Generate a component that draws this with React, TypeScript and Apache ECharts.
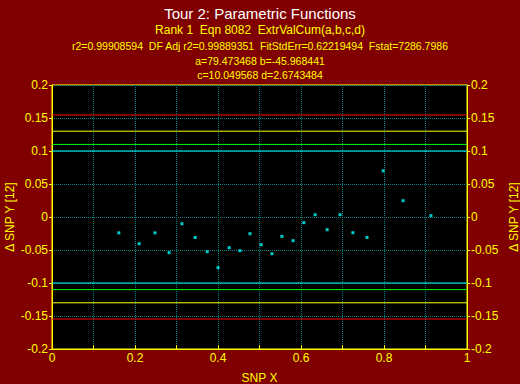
import React, { useEffect, useRef } from "react";
import * as echarts from "echarts";

const titleLines = [
  "Tour 2: Parametric Functions",
  "Rank 1  Eqn 8082  ExtrValCum(a,b,c,d)",
  "r2=0.99908594  DF Adj r2=0.99889351  FitStdErr=0.62219494  Fstat=7286.7986",
  "a=79.473468 b=-45.968441",
  "c=10.049568 d=2.6743484",
];

const xValues = [
  0.161, 0.21, 0.248, 0.282, 0.313, 0.345, 0.374, 0.4, 0.427, 0.453, 0.477, 0.504,
  0.53, 0.554, 0.581, 0.607, 0.634, 0.663, 0.694, 0.725, 0.759, 0.798, 0.846, 0.913,
];
const yValues = [
  -0.024, -0.0405, -0.024, -0.054, -0.0102, -0.031, -0.0526, -0.0768, -0.0465, -0.051, -0.0253, -0.042,
  -0.0556, -0.0294, -0.0359, -0.0086, 0.0035, -0.0192, 0.0035, -0.0238, -0.031, 0.07, 0.0247, 0.002,
];

const limitValues = [0.1, 0.11, 0.13, 0.1545];
const limitColors = ["#00ffff", "#00ff00", "#ffff00", "#ff0000"];

const FONT = "'Liberation Sans', Arial, sans-serif";
const YELLOW = "#ffff00";
const GRIDCOLOR = "#008080";

export default function App() {
  const ref = useRef<HTMLDivElement>(null);
  useEffect(() => {
    if (!ref.current) return;
    const chart = echarts.init(ref.current, undefined, { renderer: "svg" });
    const points = xValues.map((x, i) => [x, yValues[i]]);
    const limitSeries: any[] = [];
    limitValues.forEach((v, i) => {
      [v, -v].forEach((val) => {
        limitSeries.push({
          type: "line",
          data: [
            [0, val],
            [1, val],
          ],
          symbol: "none",
          silent: true,
          lineStyle: { color: limitColors[i], width: 1 },
          z: 1,
        });
      });
    });
    const titleY = [13, 30, 45.5, 61, 75];
    const titleSize = [15, 12, 10.5, 10.5, 10.5];
    const yAxisCommon = {
      type: "value",
      min: -0.2,
      max: 0.2,
      interval: 0.05,
      name: "\u0394 SNP Y [12]",
      nameLocation: "middle",
      nameRotate: 90,
      nameMoveOverlap: false,
      nameTextStyle: { color: YELLOW, fontSize: 12, fontFamily: FONT },
      axisLine: { show: true, onZero: false, lineStyle: { color: YELLOW, width: 1 } },
      axisTick: { show: true, inside: false, length: 3, lineStyle: { color: YELLOW } },
      axisLabel: { color: YELLOW, fontSize: 12, fontFamily: FONT, margin: 4 },
    };
    chart.setOption({
      animation: false,
      backgroundColor: "#800000",
      graphic: titleLines.map((t, i) => ({
        type: "text",
        x: 260,
        y: titleY[i],
        style: {
          text: t,
          fill: i === 0 ? "#ffffff" : YELLOW,
          font: `${titleSize[i]}px ${FONT}`,
          textAlign: "center",
          textVerticalAlign: "middle",
        },
      })),
      grid: {
        left: 52,
        right: 53,
        top: 85,
        bottom: 35,
        show: true,
        backgroundColor: "#000000",
        borderColor: YELLOW,
        borderWidth: 1,
        containLabel: false,
        outerBoundsMode: "none",
      },
      xAxis: {
        type: "value",
        min: 0,
        max: 1,
        interval: 0.1,
        name: "SNP X",
        nameLocation: "middle",
        nameGap: 23,
        nameMoveOverlap: false,
        nameTextStyle: { color: YELLOW, fontSize: 12, fontFamily: FONT },
        axisLine: { show: true, onZero: false, lineStyle: { color: YELLOW, width: 1 } },
        axisTick: { show: true, inside: true, length: 4, lineStyle: { color: YELLOW } },
        axisLabel: {
          color: YELLOW,
          fontSize: 12,
          fontFamily: FONT,
          margin: 3,
          formatter: (v: number) => (Math.round(v * 10) % 2 === 0 ? String(Math.round(v * 10) / 10) : ""),
        },
        splitLine: { show: true, lineStyle: { color: GRIDCOLOR, type: [1, 1], width: 1 } },
      },
      yAxis: [
        {
          ...yAxisCommon,
          position: "left",
          nameGap: 36,
          splitLine: { show: true, lineStyle: { color: GRIDCOLOR, type: [1, 1], width: 1 } },
        },
        {
          ...yAxisCommon,
          position: "right",
          nameGap: 41,
          splitLine: { show: false },
        },
      ],
      series: [
        ...limitSeries,
        {
          type: "scatter",
          data: points,
          symbol: "rect",
          symbolSize: 3,
          itemStyle: { color: "#00ffff" },
          z: 3,
        },
      ],
    });
    return () => chart.dispose();
  }, []);
  return (
    <div
      style={{
        position: "fixed",
        left: 0,
        top: 0,
        width: 520,
        height: 384,
        boxSizing: "border-box",
        border: "1px solid #ffff00",
        background: "#800000",
      }}
    >
      <div ref={ref} style={{ position: "absolute", left: -1, top: -1, width: 520, height: 384 }} />
    </div>
  );
}
